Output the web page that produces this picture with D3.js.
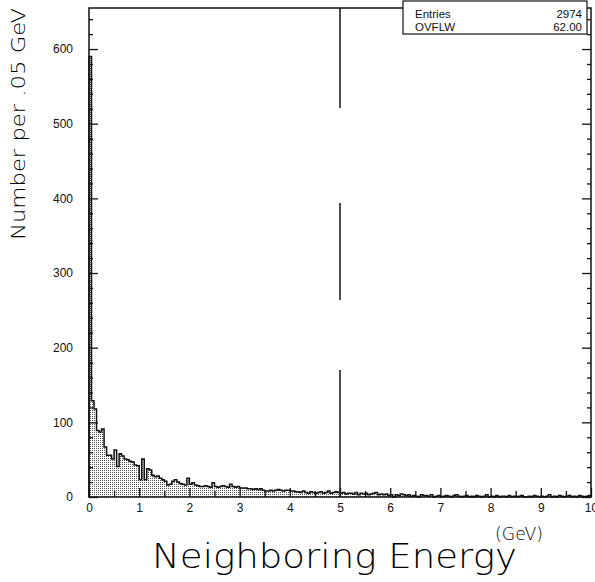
<!DOCTYPE html>
<html><head><meta charset="utf-8">
<script src="https://cdn.jsdelivr.net/npm/d3@7"></script>
<style>body{margin:0;background:#fff}svg{display:block}</style>
</head><body>
<svg id="c" width="595" height="582"></svg>
<script>
// ---- data (counts per 0.05 GeV bin, 0..10 GeV) ----
const binWidth = 0.05;
const countsA = [590,129,118,89,87,91,67,56,56,51, 63,41,58,55,51,50,48,47,43,42, 23,51,23,38,36,29,27,28,25,23, 21,16,17,21,23,20,18,17,16,25, 17];
const countsB = [19,16,15,14,14,15,14,13,19,14, 13,14,15,14,13,17,14,13,14,12];
const countsC = [12,12,11,11,10,11,10,11,9,8, 8,9,8,9,10,9,8,9,9,8, 8,7];
const countsD = [7,6,8,6,5,7,6,5,6,7, 5,6,8,5,6,7,6];
const countsE = [5,6,4,5,5,4,6,3,5,4, 5,3,4,5,6,3,4];
const countsF = [3,4,2,3,0,3,2,4,3,2, 3,1];
const countsG = [2,1,0,3,2,2,1,3,0,1, 2,0,1,2,1,0,2,3,1,0, 1,2,0,1,0,2,1,0,1,3, 0,1,0,2,0,1,1,0,2,0, 1,0,1,2,0,0,1,0,2,1, 0,1,0,1,3,0,1,0,2,1, 0,1,2,0,1,0,2,1,0,1, 2];
const counts = [].concat(countsA,countsB,countsC,countsD,countsE,countsF,countsG);
const xTicks = [0,1,2,3,4,5,6,7,8,9,10];
const yTicks = [0,100,200,300,400,500,600];
const statNames = ["Entries","OVFLW"];
const statValues = ["2974","62.00"];
const cutValue = 5;
const yTitle = "Number per .05 GeV";
const xTitle = "Neighboring Energy";
const xUnit = "(GeV)";

// ---- layout ----
const svg = d3.select("#c");
const x = d3.scaleLinear().domain([0,10]).range([89,591]);
const y = d3.scaleLinear().domain([0,655]).range([497,8]);

const defs = svg.append("defs");
const pat = defs.append("pattern").attr("id","dots").attr("patternUnits","userSpaceOnUse")
  .attr("width",2).attr("height",2);
pat.append("rect").attr("width",2).attr("height",2).attr("fill","#fff");
pat.append("rect").attr("x",0).attr("y",0).attr("width",1).attr("height",1).attr("fill","#555");

// histogram
const pts = counts.map((c,i)=>[i*binWidth,c]);
pts.push([10, counts[counts.length-1]]);
const area = d3.area().x(d=>x(d[0])).y0(y(0)).y1(d=>y(d[1])).curve(d3.curveStepAfter);
svg.append("path").attr("d",area(pts)).attr("fill","url(#dots)");
const outline = [[0,0]].concat(pts,[[10,0]]);
const line = d3.line().x(d=>x(d[0])).y(d=>y(d[1])).curve(d3.curveStepAfter);
svg.append("path").attr("d",line(outline)).attr("fill","none").attr("stroke","#111").attr("stroke-width",1.5);

// frame
svg.append("rect").attr("x",x(0)).attr("y",y(655)).attr("width",x(10)-x(0)).attr("height",y(0)-y(655))
  .attr("fill","none").attr("stroke","#111").attr("stroke-width",1.5);

// axes
const fontTick = "Liberation Sans, Arial, sans-serif";
const yAx = svg.append("g").attr("transform",`translate(${x(0)},0)`)
  .call(d3.axisLeft(y).tickValues(yTicks).tickSize(-9).tickPadding(16).tickFormat(d3.format("d")));
const yMinor = svg.append("g").attr("transform",`translate(${x(0)},0)`)
  .call(d3.axisLeft(y).tickValues(d3.range(0,655,20).filter(v=>v%100)).tickSize(-4).tickFormat(""));
const yR = svg.append("g").attr("transform",`translate(${x(10)},0)`)
  .call(d3.axisRight(y).tickValues(yTicks).tickSize(-9).tickFormat(""));
const yRm = svg.append("g").attr("transform",`translate(${x(10)},0)`)
  .call(d3.axisRight(y).tickValues(d3.range(0,655,20).filter(v=>v%100)).tickSize(-4).tickFormat(""));
const xAx = svg.append("g").attr("transform",`translate(0,${y(0)})`)
  .call(d3.axisBottom(x).tickValues(xTicks).tickSize(-9).tickPadding(6).tickFormat(d3.format("d")));
const xMid = svg.append("g").attr("transform",`translate(0,${y(0)})`)
  .call(d3.axisBottom(x).tickValues(d3.range(0.5,10,1)).tickSize(-6).tickFormat(""));
[yAx,yMinor,yR,yRm,xAx,xMid].forEach(g=>{
  g.select(".domain").remove();
  g.selectAll("line").attr("stroke","#111").attr("stroke-width",1.3);
  g.selectAll("text").attr("font-family",fontTick).attr("font-size",12).attr("fill","#111");
});

// cut line at 5 GeV (dashed)
svg.append("line").attr("x1",x(cutValue)).attr("x2",x(cutValue)).attr("y1",y(655)).attr("y2",y(0))
  .attr("stroke","#111").attr("stroke-width",1.5).attr("stroke-dasharray","100 95 97 70 130");

// stats box
const bx = 403, bw = 184, by = 1, bh = 33;
svg.append("rect").attr("x",bx).attr("y",by).attr("width",bw).attr("height",bh)
  .attr("fill","#fff").attr("stroke","#111").attr("stroke-width",1.2);
statNames.forEach((n,i)=>{
  svg.append("text").attr("x",bx+12).attr("y",18+i*12.5).text(n)
    .attr("font-family",fontTick).attr("font-size",11.5).attr("fill","#111");
  svg.append("text").attr("x",bx+bw-5).attr("y",18+i*12.5).text(statValues[i]).attr("text-anchor","end")
    .attr("font-family",fontTick).attr("font-size",11.5).attr("fill","#111");
});

// titles
const fontTitle = "DejaVu Sans, sans-serif";
svg.append("text").attr("transform","translate(25,124) rotate(-90)").attr("text-anchor","middle")
  .attr("font-family",fontTitle).attr("font-size",20).attr("font-weight",200).attr("fill","#000")
  .attr("textLength",232).attr("lengthAdjust","spacingAndGlyphs").text(yTitle);
svg.append("text").attr("x",152).attr("y",568)
  .attr("font-family",fontTitle).attr("font-size",34).attr("font-weight",200).attr("fill","#000")
  .attr("textLength",365).attr("lengthAdjust","spacingAndGlyphs").text(xTitle);
svg.append("text").attr("x",495).attr("y",540)
  .attr("font-family",fontTitle).attr("font-size",17).attr("font-weight",200).attr("fill","#000")
  .attr("textLength",48).attr("lengthAdjust","spacingAndGlyphs").text(xUnit);
</script>
</body></html>
